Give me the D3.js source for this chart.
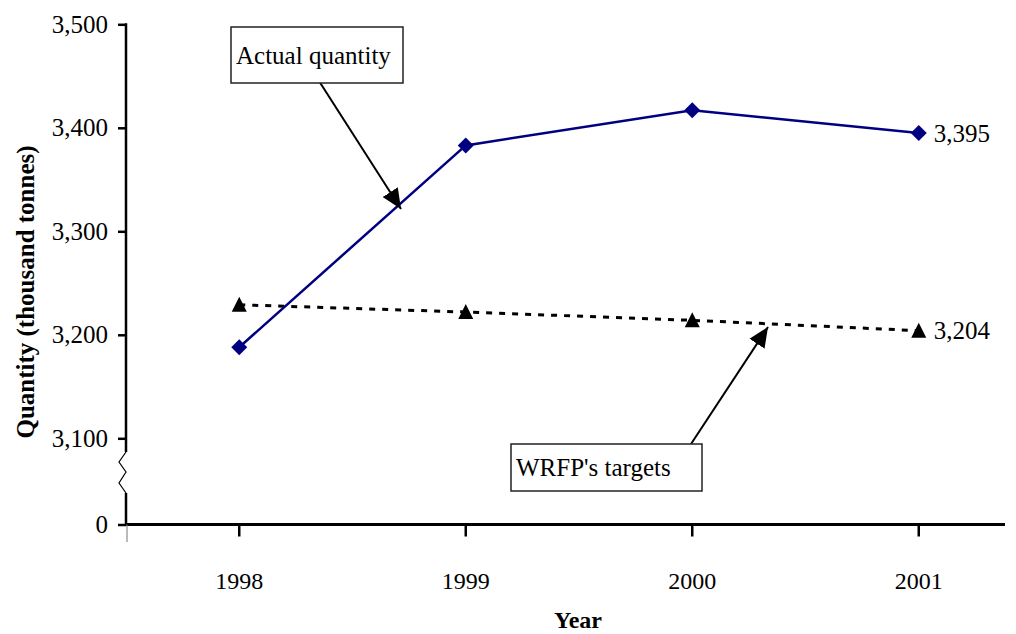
<!DOCTYPE html>
<html>
<head>
<meta charset="utf-8">
<script src="https://cdn.jsdelivr.net/npm/d3@7"></script>
<style>
  html, body { margin: 0; padding: 0; background: #fff; }
  svg { display: block; font-family: "Liberation Serif", "Times New Roman", serif; }
</style>
</head>
<body>
<svg id="chart" width="1016" height="634"></svg>
<script>
// Sea-fishery landings vs. WRFP targets, thousand tonnes
const years = ["1998", "1999", "2000", "2001"];
const actualQuantity = [3188, 3383, 3417, 3395];
const wrfpTargets = [3229, 3222, 3214, 3204];
const yTickValues = [0, 3100, 3200, 3300, 3400, 3500];

const svg = d3.select("#chart");

// Category axis: each year sits at the centre of its band
const x = d3.scaleBand().domain(years).range([126, 1032]).padding(0);
const cx = d => x(d) + x.bandwidth() / 2;

// Broken value axis: 0 at the bottom, 3,100–3,500 stretched above the break
const y = d3.scaleLinear().domain([0, 3100, 3500]).range([524.5, 438.3, 24.3]);

const fmt = d3.format(",");
const breakTop = 452, breakBottom = 493;

// Y axis: tick marks and labels through d3.axisLeft, line drawn by hand for the break
const yAxis = svg.append("g")
  .attr("transform", "translate(126,0)")
  .call(d3.axisLeft(y).tickValues(yTickValues).tickFormat(fmt).tickSize(8).tickPadding(10));
yAxis.select(".domain").remove();
yAxis.selectAll(".tick line").attr("stroke", "#000").attr("stroke-width", 2.5);
yAxis.selectAll(".tick text")
  .attr("font-family", "Liberation Serif, serif")
  .attr("font-size", 25)
  .attr("fill", "#000");

svg.append("line")
  .attr("x1", 126).attr("x2", 126)
  .attr("y1", y(3500) - 1).attr("y2", breakTop)
  .attr("stroke", "#000").attr("stroke-width", 2.5);
svg.append("line")
  .attr("x1", 126).attr("x2", 126)
  .attr("y1", breakBottom).attr("y2", y(0))
  .attr("stroke", "#000").attr("stroke-width", 2.5);

// Zigzag marking the axis break
const zz = [[126, breakTop], [119, 462], [126, 472], [119, 483], [126, breakBottom]];
svg.append("path")
  .attr("d", d3.line()(zz))
  .attr("fill", "none").attr("stroke", "#000").attr("stroke-width", 1.2);

// X axis
const xAxis = svg.append("g")
  .attr("transform", `translate(0,${y(0)})`)
  .call(d3.axisBottom(x).tickSize(12).tickPadding(35));
xAxis.select(".domain").remove();
xAxis.selectAll(".tick line").attr("stroke", "#000").attr("stroke-width", 2.5);
xAxis.selectAll(".tick text")
  .attr("font-family", "Liberation Serif, serif")
  .attr("font-size", 24)
  .attr("fill", "#000");

svg.append("line")
  .attr("x1", 125).attr("x2", 1005)
  .attr("y1", y(0)).attr("y2", y(0))
  .attr("stroke", "#000").attr("stroke-width", 3);

// Thin stub under the origin
svg.append("line")
  .attr("x1", 127).attr("x2", 127)
  .attr("y1", y(0)).attr("y2", 542)
  .attr("stroke", "#777").attr("stroke-width", 1);

// Axis titles
svg.append("text")
  .attr("transform", "translate(34,292) rotate(-90)")
  .attr("text-anchor", "middle")
  .attr("font-weight", "bold")
  .attr("font-size", 25)
  .text("Quantity (thousand tonnes)");

svg.append("text")
  .attr("x", 578).attr("y", 628)
  .attr("text-anchor", "middle")
  .attr("font-weight", "bold")
  .attr("font-size", 24)
  .text("Year");

// Target series: dashed black line with triangles
const targetPts = years.map((yr, i) => [cx(yr), y(wrfpTargets[i])]);
svg.append("path")
  .attr("d", d3.line()(targetPts))
  .attr("fill", "none")
  .attr("stroke", "#000")
  .attr("stroke-width", 3)
  .attr("stroke-dasharray", "6,7");
svg.selectAll(".tri")
  .data(targetPts)
  .join("path")
  .attr("class", "tri")
  .attr("transform", d => `translate(${d[0]},${d[1]})`)
  .attr("d", "M0,-8 L7.5,7 L-7.5,7 Z")
  .attr("fill", "#000");

// Actual series: navy line with diamonds
const actualPts = years.map((yr, i) => [cx(yr), y(actualQuantity[i])]);
svg.append("path")
  .attr("d", d3.line()(actualPts))
  .attr("fill", "none")
  .attr("stroke", "#000080")
  .attr("stroke-width", 2.5);
svg.selectAll(".dia")
  .data(actualPts)
  .join("path")
  .attr("class", "dia")
  .attr("transform", d => `translate(${d[0]},${d[1]})`)
  .attr("d", "M0,-8 L8,0 L0,8 L-8,0 Z")
  .attr("fill", "#000080");

// End-of-series value labels
const last = years.length - 1;
[actualQuantity[last], wrfpTargets[last]].forEach(v => {
  svg.append("text")
    .attr("x", cx(years[last]) + 15)
    .attr("y", y(v))
    .attr("dy", "0.35em")
    .attr("font-size", 25)
    .text(fmt(v));
});

// Callout boxes with arrows
const defs = svg.append("defs");
defs.append("marker")
  .attr("id", "arrowhead")
  .attr("viewBox", "0 0 20 20")
  .attr("refX", 20).attr("refY", 10)
  .attr("markerWidth", 20).attr("markerHeight", 20)
  .attr("markerUnits", "userSpaceOnUse")
  .attr("orient", "auto")
  .append("path")
  .attr("d", "M0,1 L20,10 L0,19 Z")
  .attr("fill", "#000");

function callout(bx, by, bw, bh, label, from, to) {
  svg.append("line")
    .attr("x1", from[0]).attr("y1", from[1])
    .attr("x2", to[0]).attr("y2", to[1])
    .attr("stroke", "#000").attr("stroke-width", 2)
    .attr("marker-end", "url(#arrowhead)");
  svg.append("rect")
    .attr("x", bx).attr("y", by)
    .attr("width", bw).attr("height", bh)
    .attr("fill", "#fff").attr("stroke", "#222").attr("stroke-width", 1.5);
  svg.append("text")
    .attr("x", bx + 5).attr("y", by + bh / 2)
    .attr("dy", "0.35em")
    .attr("font-size", 25)
    .text(label);
}

callout(231, 27, 172, 56, "Actual quantity", [319, 81], [401, 209]);
callout(511, 444, 191, 47, "WRFP's targets", [691, 444], [768, 327]);
</script>
</body>
</html>
